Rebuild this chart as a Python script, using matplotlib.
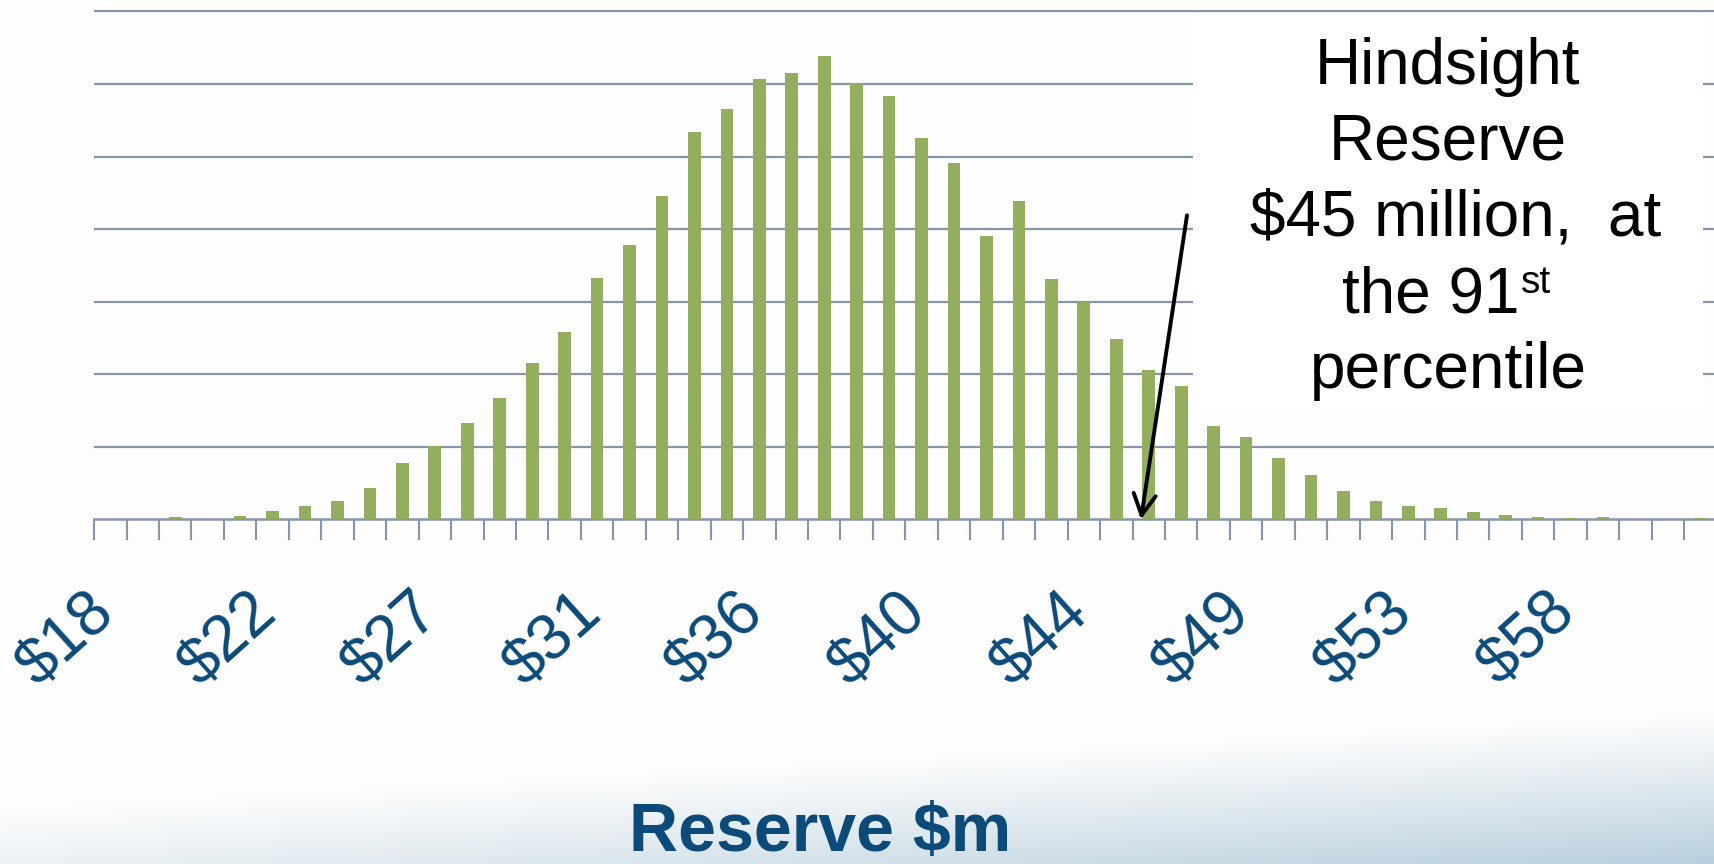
import matplotlib
matplotlib.use("Agg")
import matplotlib.pyplot as plt
import numpy as np
from matplotlib.patches import Rectangle
import matplotlib.transforms as mtransforms

plt.rcParams['font.family'] = ['Liberation Sans', 'DejaVu Sans']

# ---------------- data ----------------
# relative frequency of simulated reserve outcomes (in gridline units)
freq = [0.008, 0.008, 0.03, 0.008, 0.045, 0.114, 0.18, 0.247, 0.427, 0.778,
        1.016, 1.324, 1.666, 2.155, 2.582, 3.322, 3.787, 4.452, 5.339, 5.648,
        6.070, 6.146, 6.383, 6.013, 5.838, 5.254, 4.907, 3.906, 4.381, 3.308,
        2.990, 2.482, 2.060, 1.832, 1.281, 1.130, 0.845, 0.607, 0.389, 0.252,
        0.180, 0.161, 0.104, 0.055, 0.036, 0.018, 0.027, 0.0, 0.008, 0.018]
label_positions = [0, 5, 10, 15, 20, 25, 30, 35, 40, 45]
tick_labels = ['$18', '$22', '$27', '$31', '$36', '$40', '$44', '$49', '$53', '$58']
xlabel = 'Reserve $m'
note_lines = ['Hindsight', 'Reserve', '$45 million,  at']
note_line4 = 'the 91'
note_sup = 'st'
note_line5 = 'percentile'
arrow_tail = (33.18, 4.19)
arrow_head = (31.76, 0.0)

# ---------------- style ----------------
W, H = 1715, 864
BAR = '#93ae5f'
GRID = '#8794ab'
LABEL = '#0b4a79'

fig = plt.figure(figsize=(W / 100, H / 100), dpi=100)
fig.patch.set_facecolor('#fdfdfd')

# slide background gradient (bottom, bluish towards right)
bg = fig.add_axes([0, 0, 1, 1], zorder=-10)
Xn = np.linspace(0, 1, W)
Yp = np.arange(H)
X, Y = np.meshgrid(Xn, Yp)
y0 = 805 - 95 * X
s = np.clip((Y - y0) / (H - y0), 0, 1) ** 1.1 * (0.25 + 0.75 * X)
base = np.array([253, 253, 253]) / 255.0
tint = np.array([184, 207, 221]) / 255.0
img = base[None, None, :] * (1 - s[..., None]) + tint[None, None, :] * s[..., None]
bg.imshow(img, aspect='auto', extent=[0, 1, 0, 1], origin='upper')
bg.axis('off')

# main axes
unit_px = 72.56
base_px = 519.3
ytop = 7.02
left_px = 94.1
cat_px = 32.45
ax_h = ytop * unit_px
ax = fig.add_axes([left_px / W, (H - base_px) / H, 50 * cat_px / W, ax_h / H])
ax.set_facecolor('none')

x = np.arange(len(freq))
ax.bar(x, freq, width=0.39, color=BAR, zorder=3)
ax.set_xlim(-0.5, len(freq) - 0.5)
ax.set_ylim(0, ytop)

ax.set_yticks(np.arange(1, 8))
ax.yaxis.grid(True, color=GRID, lw=1.6)
ax.set_axisbelow(True)
ax.tick_params(axis='y', length=0, labelleft=False)
for sp in ['left', 'right', 'top']:
    ax.spines[sp].set_visible(False)
ax.spines['bottom'].set_color(GRID)
ax.spines['bottom'].set_linewidth(1.8)
ax.set_xticks(np.arange(len(freq) + 1) - 0.5)
ax.tick_params(axis='x', length=15, width=1.5, color=GRID, labelbottom=False,
               direction='out')

# rotated category labels
trans = mtransforms.blended_transform_factory(ax.transData, ax.transAxes)
y_lab = -84.0 / ax_h
for pos, lab in zip(label_positions, tick_labels):
    ax.text(pos - 0.15, y_lab, lab, transform=trans, rotation=42,
            rotation_mode='anchor', ha='right', va='center',
            fontsize=46, color=LABEL, clip_on=False)

# axis title
fig.text(820 / W, 1 - 851.5 / H, xlabel, ha='center', va='baseline',
         fontsize=49, fontweight='bold', color=LABEL)

# arrow
ax.annotate('', xy=arrow_head, xytext=arrow_tail,
            arrowprops=dict(arrowstyle='->,head_length=0.75,head_width=0.4',
                            color='black', lw=2.8, mutation_scale=20,
                            shrinkA=0, shrinkB=0),
            zorder=6, annotation_clip=False)

# annotation box
box = Rectangle((1193 / W, 1 - 415 / H), (1703 - 1193) / W, (415 - 12.5) / H,
                transform=fig.transFigure, facecolor='white', edgecolor='none',
                zorder=5)
fig.patches.append(box)

cx = 1448 / W
centers = [1448, 1448, 1456]
baselines = [83.7, 159.4, 235.9]
for line, c, b in zip(note_lines, centers, baselines):
    fig.text(c / W, 1 - b / H, line, ha='center', va='baseline', fontsize=46,
             color='black', zorder=6)
fig.text(1342 / W, 1 - 312.7 / H, note_line4, ha='left', va='baseline',
         fontsize=46, color='black', zorder=6)
fig.text(1521 / W, 1 - 293 / H, note_sup, ha='left', va='baseline',
         fontsize=28, color='black', zorder=6)
fig.text(cx, 1 - 388.4 / H, note_line5, ha='center', va='baseline',
         fontsize=46, color='black', zorder=6)

fig.savefig('out.png', dpi=100)
